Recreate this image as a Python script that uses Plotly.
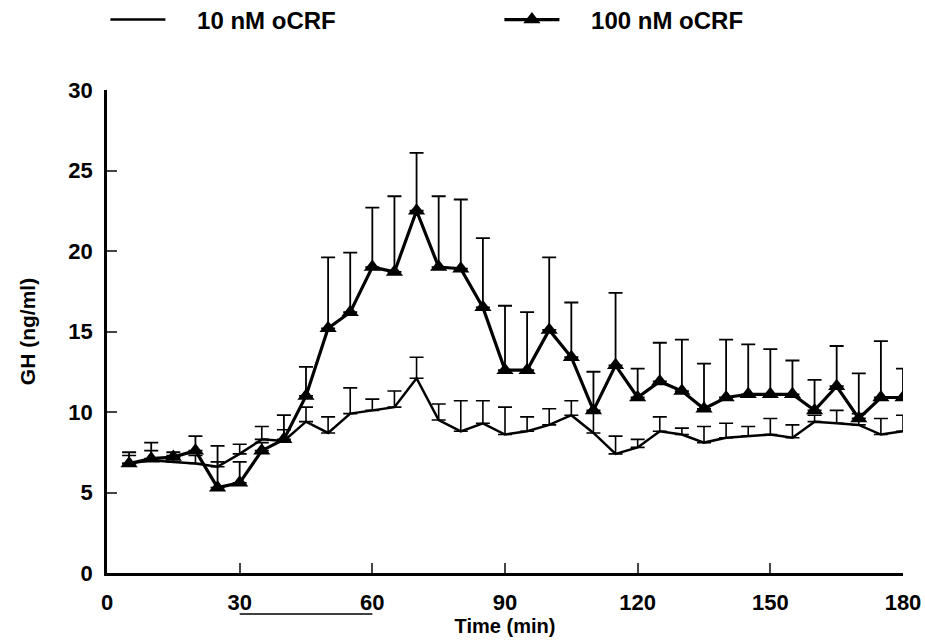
import plotly.graph_objects as go

# time points (min)
time = [5, 10, 15, 20, 25, 30, 35, 40, 45, 50, 55, 60, 65, 70, 75, 80, 85, 90,
        95, 100, 105, 110, 115, 120, 125, 130, 135, 140, 145, 150, 155, 160, 165, 170, 175, 180]

# GH (ng/ml), 10 nM oCRF
gh_10 = [6.8, 7.0, 6.9, 6.8, 6.6, 7.4, 8.3, 8.2, 9.4, 8.7, 9.9, 10.1, 10.3, 12.1, 9.5, 8.8, 9.3, 8.6,
         8.8, 9.2, 9.8, 8.7, 7.4, 7.8, 8.8, 8.6, 8.1, 8.4, 8.5, 8.6, 8.4, 9.4, 9.3, 9.2, 8.6, 8.8]
sem_10 = [0.5, 0.6, 0.4, 0.5, 0.3, 0.6, 0.8, 0.7, 0.9, 1.0, 1.6, 0.7, 1.0, 1.3, 1.0, 1.9, 1.4, 1.7,
          0.9, 1.0, 0.9, 1.3, 1.1, 0.5, 0.9, 0.4, 1.0, 0.9, 0.6, 1.0, 0.8, 0.4, 0.8, 0.7, 1.0, 1.0]

# GH (ng/ml), 100 nM oCRF
gh_100 = [6.8, 7.1, 7.2, 7.6, 5.3, 5.6, 7.6, 8.3, 11.0, 15.2, 16.2, 19.0, 18.7, 22.5, 19.0, 18.9, 16.5, 12.6,
          12.6, 15.1, 13.4, 10.1, 12.9, 10.9, 11.9, 11.3, 10.2, 10.9, 11.1, 11.1, 11.1, 10.1, 11.6, 9.6, 10.9, 10.9]
sem_100 = [0.7, 1.0, 0.3, 0.9, 2.6, 1.3, 0.5, 1.5, 1.8, 4.4, 3.7, 3.7, 4.7, 3.6, 4.4, 4.3, 4.3, 4.0,
           3.6, 4.5, 3.4, 2.4, 4.5, 1.8, 2.4, 3.2, 2.8, 3.6, 3.1, 2.8, 2.1, 1.9, 2.5, 2.8, 3.5, 1.8]

infusion = [30, 60]

x_ticks = [0, 30, 60, 90, 120, 150, 180]
y_ticks = [0, 5, 10, 15, 20, 25, 30]

font_name = "Liberation Sans, Arial"
pad = "\u00a0\u00a0\u00a0\u00a0"  # gap between legend symbol and label

fig = go.Figure()

fig.add_trace(go.Scatter(
    x=time, y=gh_10, mode="lines", name=pad + "10 nM oCRF",
    line=dict(color="black", width=2.5),
    error_y=dict(type="data", symmetric=False, array=sem_10, arrayminus=[0] * len(sem_10),
                 color="black", thickness=1.6, width=7),
))

fig.add_trace(go.Scatter(
    x=time, y=gh_100, mode="lines+markers", name=pad + "100 nM oCRF",
    line=dict(color="black", width=3.2),
    marker=dict(symbol="triangle-up", size=15, color="black"),
    error_y=dict(type="data", symmetric=False, array=sem_100, arrayminus=[0] * len(sem_100),
                 color="black", thickness=1.8, width=7),
))

# bar marking the infusion period
fig.add_shape(type="line", xref="x", yref="paper", x0=infusion[0], x1=infusion[1],
              y0=-0.085, y1=-0.085, line=dict(color="black", width=1.5))

fig.update_layout(
    width=925, height=641,
    paper_bgcolor="white", plot_bgcolor="white",
    margin=dict(l=107, r=22, t=90, b=68, autoexpand=False),
    font=dict(family=font_name, size=22, color="black", weight="bold"),
    showlegend=True,
    legend=dict(orientation="h", x=-0.002, y=1.145, xanchor="left", yanchor="middle",
                entrywidth=324, entrywidthmode="pixels", itemwidth=55,
                bgcolor="rgba(0,0,0,0)",
                font=dict(family=font_name, size=24, weight="bold")),
    xaxis=dict(
        range=[0, 180], tickvals=x_ticks, ticks="inside", ticklen=10, tickwidth=2,
        showline=True, linecolor="black", linewidth=2.5, showgrid=False, zeroline=False,
        ticklabelstandoff=8,
        tickfont=dict(family=font_name, size=22, weight="bold"),
        title=dict(text="Time (min)", standoff=4,
                   font=dict(family=font_name, size=20, weight="bold")),
    ),
    yaxis=dict(
        range=[0, 30], tickvals=y_ticks, ticks="inside", ticklen=10, tickwidth=2,
        showline=True, linecolor="black", linewidth=2.5, showgrid=False, zeroline=False,
        ticklabelstandoff=7,
        tickfont=dict(family=font_name, size=22, weight="bold"),
        title=dict(text="GH (ng/ml)", standoff=28,
                   font=dict(family=font_name, size=21, weight="bold")),
    ),
)

# drop the default 8px page margin so the figure fills the window exactly
fig.write_html("out.html", config={"displayModeBar": False},
               post_script="document.body.style.margin = '0px';")
